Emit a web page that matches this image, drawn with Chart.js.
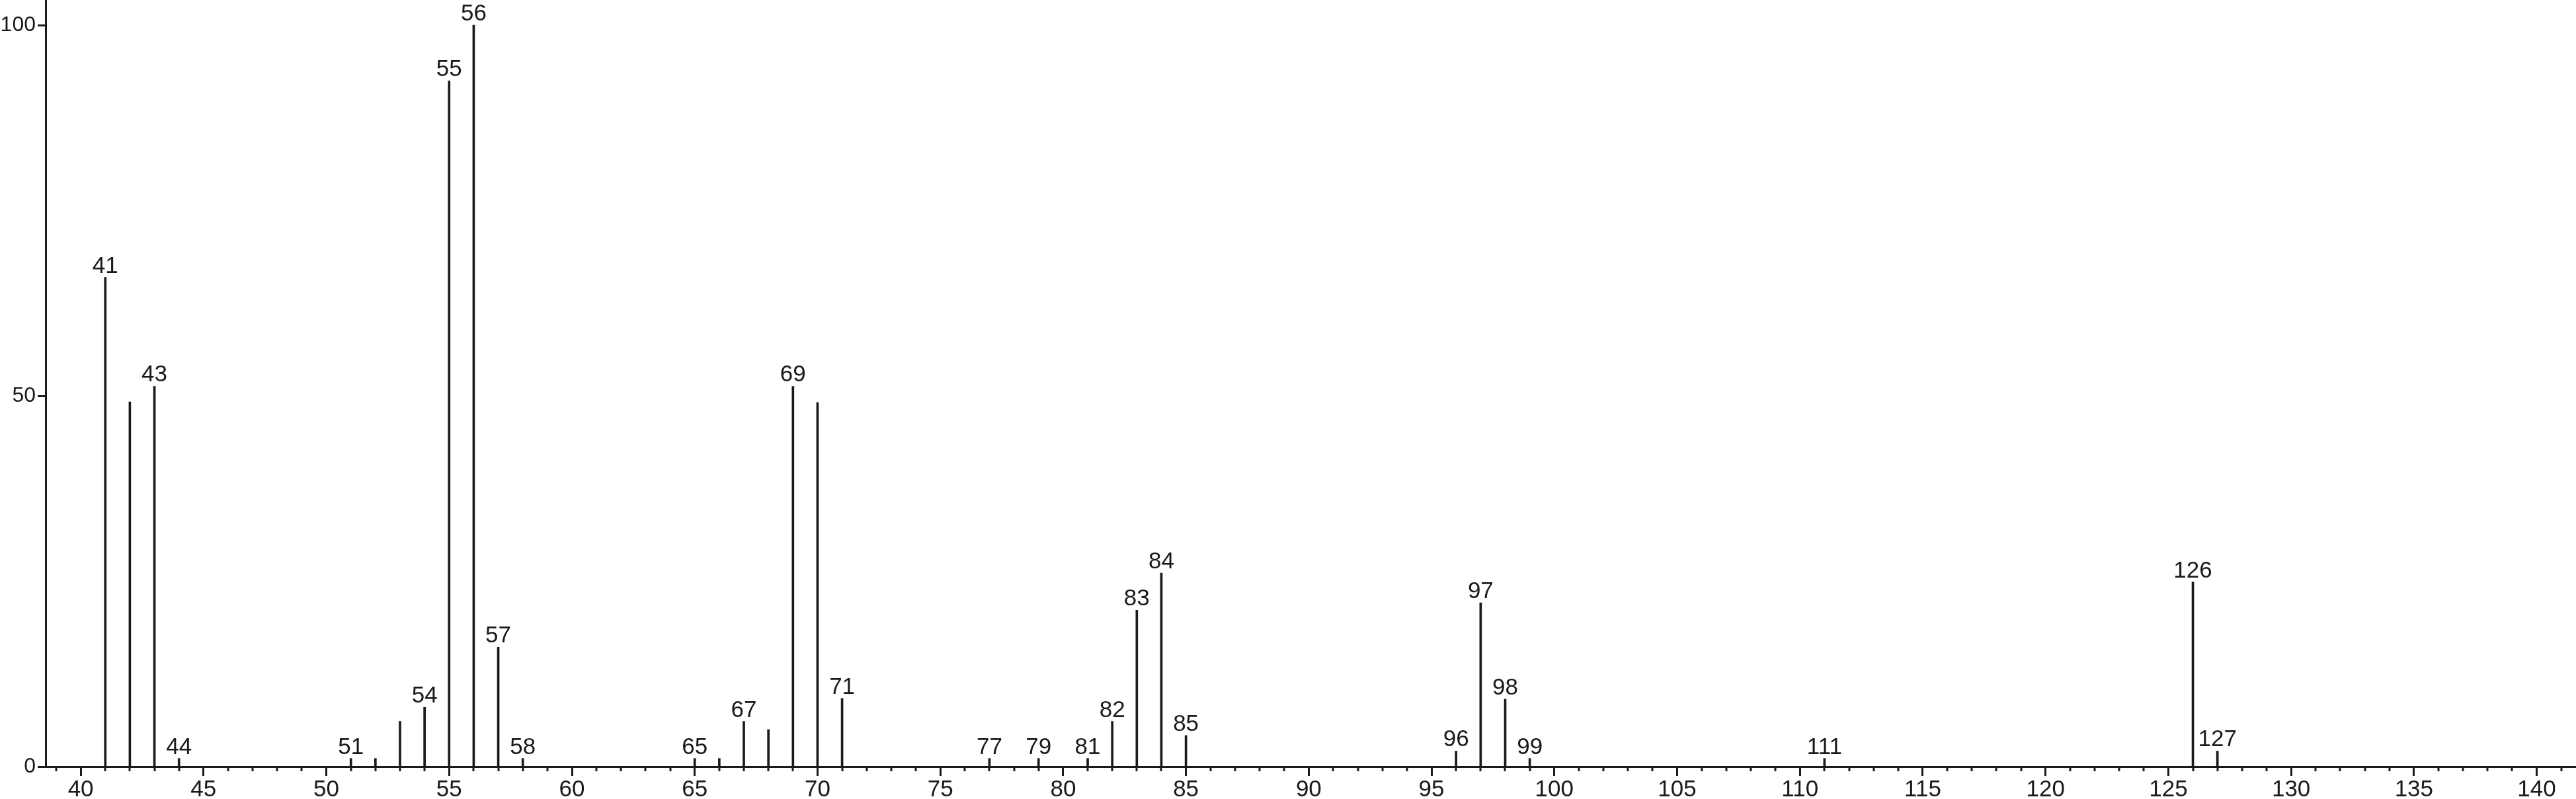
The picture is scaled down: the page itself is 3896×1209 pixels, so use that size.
<!DOCTYPE html>
<html>
<head>
<meta charset="utf-8">
<script src="https://cdn.jsdelivr.net/npm/chart.js@4"></script>
<style>
    html, body { margin: 0; padding: 0; background: #fff; }
    #wrap { width: 3896px; height: 1209px; }
</style>
</head>
<body>
<div id="wrap"><canvas id="ms-chart"></canvas></div>
<script>
// m/z 값과 상대 세기
const mz = [41, 42, 43, 44, 51, 52, 53, 54, 55, 56, 57, 58, 65, 66, 67, 68, 69, 70, 71,
    77, 79, 81, 82, 83, 84, 85, 96, 97, 98, 99, 111, 126, 127];
const intensity = [66.0, 49.2, 51.3, 1.1, 1.1, 1.1, 6.1, 8.0, 92.5, 100, 16.1, 1.1, 1.1, 1.1, 6.1, 5.0, 51.3, 49.1, 9.2,
    1.1, 1.1, 1.1, 6.1, 21.1, 26.1, 4.2, 2.1, 22.1, 9.1, 1.1, 1.1, 24.9, 2.1];
// 숫자가 붙는 피크
const labeledPeaks = [41, 43, 44, 51, 54, 55, 56, 57, 58, 65, 67, 69, 71, 77, 79, 81, 82, 83, 84, 85,
    96, 97, 98, 99, 111, 126, 127];
const xTicks = [40, 45, 50, 55, 60, 65, 70, 75, 80, 85, 90, 95, 100, 105, 110, 115, 120, 125, 130, 135, 140];
const yTicks = [0, 50, 100];

const INK = "#1a1a1a";
const FONT = "'Liberation Sans', Arial, sans-serif";
const FSIZE = 35;

// 피크 위에 m/z 숫자
const peakLabels = {
    id: "peakLabels",
    afterDatasetsDraw(chart) {
        const ctx = chart.ctx;
        const meta = chart.getDatasetMeta(0);
        ctx.save();
        ctx.fillStyle = INK;
        ctx.font = FSIZE + "px " + FONT;
        ctx.textAlign = "center";
        ctx.textBaseline = "alphabetic";
        meta.data.forEach((bar, i) => {
            if (labeledPeaks.includes(mz[i])) {
                ctx.fillText(String(mz[i]), bar.x, bar.y - 7);
            }
        });
        ctx.restore();
    }
};

// 1 단위 작은 눈금
const minorTicks = {
    id: "minorTicks",
    afterDraw(chart) {
        const x = chart.scales.x;
        const ctx = chart.ctx;
        ctx.save();
        ctx.strokeStyle = INK;
        ctx.lineWidth = 3;
        for (let v = Math.ceil(x.min); v <= Math.floor(x.max); v++) {
            if (v % 5 === 0) continue;
            const px = Math.round(x.getPixelForValue(v));
            ctx.beginPath();
            ctx.moveTo(px, x.top);
            ctx.lineTo(px, x.top + 7);
            ctx.stroke();
        }
        ctx.restore();
    }
};

new Chart(document.querySelector("#ms-chart"), {
    type: "bar",
    data: {
        datasets: [{
            data: mz.map((m, i) => ({ x: m, y: intensity[i] })),
            backgroundColor: INK,
            barThickness: 3,
        }]
    },
    options: {
        responsive: true,
        maintainAspectRatio: false,
        animation: false,
        layout: { padding: 0 },
        plugins: { legend: { display: false }, tooltip: { enabled: false } },
        scales: {
            x: {
                type: "linear",
                offset: false,
                min: 38.57,
                max: 141.6,
                afterBuildTicks: s => { s.ticks = xTicks.map(v => ({ value: v })); },
                afterFit: s => { s.height = 49; s.paddingLeft = 0; s.paddingRight = 0; },
                grid: { offset: false, drawOnChartArea: false, tickLength: 14, tickWidth: 3, tickColor: INK },
                border: { display: true, color: INK, width: 3 },
                ticks: { color: INK, font: { family: FONT, size: FSIZE }, padding: 0, maxRotation: 0, autoSkip: false }
            },
            y: {
                min: 0,
                max: 103.4,
                afterBuildTicks: s => { s.ticks = yTicks.map(v => ({ value: v })); },
                afterFit: s => { s.width = 69; s.paddingTop = 0; s.paddingBottom = 0; },
                grid: { drawOnChartArea: false, tickLength: 12, tickWidth: 3, tickColor: INK },
                border: { display: true, color: INK, width: 3 },
                ticks: { color: INK, font: { family: FONT, size: 32 }, padding: 3 }
            }
        }
    },
    plugins: [peakLabels, minorTicks]
});
</script>
</body>
</html>
